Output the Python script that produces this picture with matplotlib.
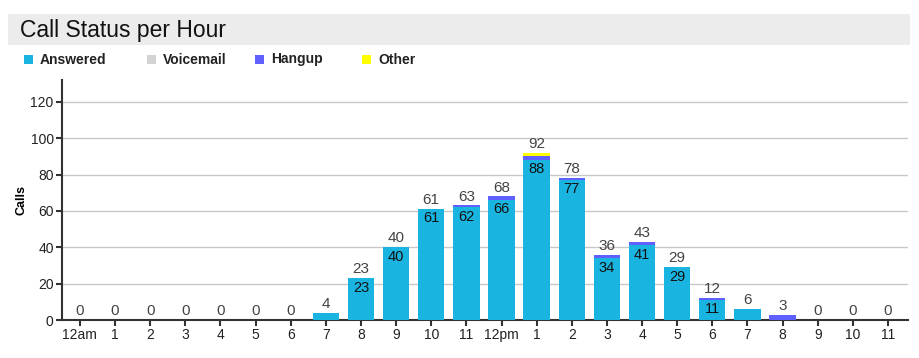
import numpy as np
import matplotlib
matplotlib.use('Agg')
import matplotlib.pyplot as plt
from matplotlib.patches import Rectangle

plt.rcParams['font.family'] = ['Liberation Sans', 'DejaVu Sans']

# calls per hour, split by status
hours = ['12am', '1', '2', '3', '4', '5', '6', '7', '8', '9', '10', '11',
         '12pm', '1', '2', '3', '4', '5', '6', '7', '8', '9', '10', '11']
answered = [0, 0, 0, 0, 0, 0, 0, 4, 23, 40, 61, 62, 66, 88, 77, 34, 41, 29, 11, 6, 0, 0, 0, 0]
voicemail = [0] * 24
hangup = [0, 0, 0, 0, 0, 0, 0, 0, 0, 0, 0, 1, 2, 2, 1, 2, 2, 0, 1, 0, 3, 0, 0, 0]
other = [0, 0, 0, 0, 0, 0, 0, 0, 0, 0, 0, 0, 0, 2, 0, 0, 0, 0, 0, 0, 0, 0, 0, 0]

series = [('Answered', answered, '#1ab4e0'),
          ('Voicemail', voicemail, '#d3d3d3'),
          ('Hangup', hangup, '#6060ff'),
          ('Other', other, '#ffff00')]

fig = plt.figure(figsize=(9.2, 3.58), dpi=100)

# title band
fig.patches.append(Rectangle((8 / 920, 1 - 45 / 358), 902 / 920, 31 / 358,
                             transform=fig.transFigure, facecolor='#ececec',
                             edgecolor='none', zorder=0))
fig.text(20 / 920, 1 - 30 / 358, 'Call Status per Hour', fontsize=16.5,
         va='center', ha='left', color='#111111')

# legend row
legend_x = [24, 147, 255, 362]
for (name, _, color), lx in zip(series, legend_x):
    fig.patches.append(Rectangle((lx / 920, 1 - 64 / 358), 9 / 920, 9 / 358,
                                 transform=fig.transFigure, facecolor=color,
                                 edgecolor='none'))
    fig.text((lx + 16) / 920, 1 - 63.5 / 358, name, fontsize=10, fontweight='bold',
             va='baseline', ha='left', color='#222222')

ax = fig.add_axes([62 / 920, 1 - 320 / 358, 846 / 920, 240 / 358])
x = np.arange(len(hours))
bottom = np.zeros(len(hours))
for name, vals, color in series:
    vals = np.array(vals, dtype=float)
    ax.bar(x, vals, width=0.75, bottom=bottom, color=color, edgecolor='none', zorder=3)
    bottom += vals

totals = bottom
for xi, t, a in zip(x, totals, answered):
    ax.text(xi, t + 1.0, '%d' % t, ha='center', va='bottom', fontsize=11,
            color='#444444', zorder=4)
    if a >= 10:
        ax.text(xi, a - 1.3, '%d' % a, ha='center', va='top', fontsize=10.5,
                color='#111111', zorder=4)

ax.set_xlim(-0.51, 23.57)
ax.set_ylim(0, 132)
ax.set_yticks(range(0, 121, 20))
ax.set_xticks(x)
ax.set_xticklabels(hours)
ax.yaxis.grid(True, color='#c8c8c8', linewidth=1)
ax.set_axisbelow(True)
for s in ['top', 'right']:
    ax.spines[s].set_visible(False)
ax.spines['left'].set_linewidth(1.5)
ax.spines['bottom'].set_linewidth(1.5)
ax.spines['left'].set_color('#333333')
ax.spines['bottom'].set_color('#333333')
ax.tick_params(axis='both', length=4, width=1.5, color='#333333', labelsize=10,
               labelcolor='#222222', pad=2)
ax.set_ylabel('Calls', fontsize=9, fontweight='bold', labelpad=2)

fig.savefig('out.png', dpi=100)
